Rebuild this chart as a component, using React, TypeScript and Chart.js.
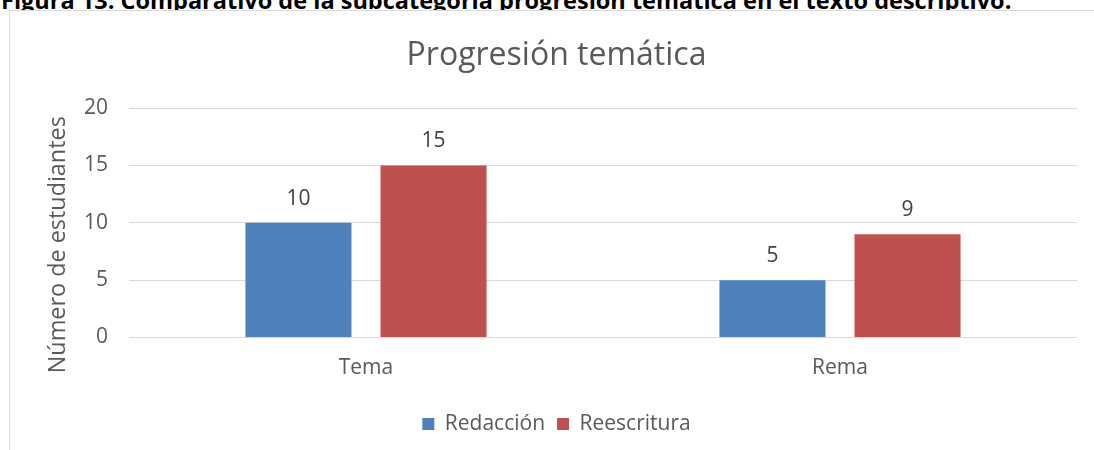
import React, { useEffect, useRef } from "react";
import { Chart, registerables } from "chart.js";

Chart.register(...registerables);

const caption =
  "Figura 13. Comparativo de la subcategoría progresión temática en el texto descriptivo.";
const chartTitle = "Progresión temática";
const yAxisTitle = "Número de estudiantes";
const categories = ["Tema", "Rema"];
const seriesNames = ["Redacción", "Reescritura"];
const redaccion = [10, 5];
const reescritura = [15, 9];
const yTicks = [0, 5, 10, 15, 20];

const FONT = "'Open Sans', sans-serif";

const valueLabels = {
  id: "valueLabels",
  afterDatasetsDraw(chart: any) {
    const ctx = chart.ctx;
    ctx.save();
    ctx.font = `21px ${FONT}`;
    ctx.fillStyle = "#404040";
    ctx.textAlign = "center";
    ctx.textBaseline = "middle";
    chart.data.datasets.forEach((ds: any, i: number) => {
      const meta = chart.getDatasetMeta(i);
      meta.data.forEach((el: any, j: number) => {
        ctx.fillText(String(ds.data[j]), el.x, el.y - 24);
      });
    });
    ctx.restore();
  },
};

const yTitlePlugin = {
  id: "yTitlePlugin",
  afterDraw(chart: any) {
    const ctx = chart.ctx;
    const area = chart.chartArea;
    ctx.save();
    ctx.translate(48.5, (area.top + area.bottom) / 2 + 22);
    ctx.rotate(-Math.PI / 2);
    ctx.font = `23.4px ${FONT}`;
    ctx.fillStyle = "#595959";
    ctx.textAlign = "center";
    ctx.textBaseline = "middle";
    ctx.fillText(yAxisTitle, 0, 0);
    ctx.restore();
  },
};

export default function App() {
  const canvasRef = useRef<HTMLCanvasElement | null>(null);
  const capRef = useRef<HTMLSpanElement | null>(null);

  useEffect(() => {
    const cap = capRef.current;
    if (cap) {
      const w = cap.offsetWidth;
      if (w > 0) {
        const size = (22 * 1011) / w;
        cap.style.fontSize = `${size}px`;
      }
    }
    const canvas = canvasRef.current;
    if (!canvas) return;
    Chart.defaults.font.family = FONT;
    const chart = new Chart(canvas, {
      type: "bar",
      data: {
        labels: categories,
        datasets: [
          {
            label: seriesNames[0],
            data: redaccion,
            backgroundColor: "#4F81BD",
            categoryPercentage: 0.57,
            barPercentage: 0.785,
          },
          {
            label: seriesNames[1],
            data: reescritura,
            backgroundColor: "#C0504D",
            categoryPercentage: 0.57,
            barPercentage: 0.785,
          },
        ],
      },
      options: {
        responsive: false,
        animation: false,
        layout: { padding: { top: 0, left: 0, right: 0, bottom: 5.5 } },
        plugins: {
          title: {
            display: true,
            text: chartTitle,
            color: "#595959",
            font: { size: 32, weight: "normal", family: FONT },
            padding: { top: 26, bottom: 32.6 },
          },
          legend: {
            position: "bottom",
            labels: {
              color: "#595959",
              boxWidth: 12,
              boxHeight: 12,
              padding: 12,
              font: { size: 21, family: FONT },
            },
          },
          tooltip: { enabled: false },
        },
        scales: {
          x: {
            grid: { display: false, drawTicks: false },
            border: { display: false },
            ticks: {
              color: "#595959",
              padding: 18.4,
              font: { size: 21, family: FONT },
            },
            afterFit: (scale: any) => {
              scale.height += 2;
            },
          },
          y: {
            min: yTicks[0],
            max: yTicks[yTicks.length - 1],
            ticks: {
              stepSize: yTicks[1] - yTicks[0],
              color: "#595959",
              padding: 21,
              font: { size: 21, family: FONT },
            },
            grid: { color: "#d9d9d9", lineWidth: 1, drawTicks: false },
            border: { display: false },
            afterFit: (scale: any) => {
              scale.width = 119;
            },
          },
          yRight: {
            position: "right",
            display: true,
            grid: { display: false, drawTicks: false },
            border: { display: false },
            ticks: { display: false },
            afterFit: (scale: any) => {
              scale.width = 26;
            },
          },
        },
      },
      plugins: [valueLabels, yTitlePlugin],
    });
    return () => chart.destroy();
  }, []);

  return (
    <div
      style={{
        position: "fixed",
        left: 0,
        top: 0,
        width: 1094,
        height: 450,
        overflow: "hidden",
        background: "#ffffff",
      }}
    >
      <div
        style={{
          position: "absolute",
          left: 1,
          top: -16.5,
          whiteSpace: "nowrap",
          fontFamily: FONT,
          fontWeight: 700,
          color: "#000000",
          lineHeight: "normal",
        }}
      >
        <span ref={capRef} style={{ fontSize: 22 }}>
          {caption}
        </span>
      </div>
      <div
        style={{
          position: "absolute",
          left: 9,
          top: 10,
          width: 1200,
          height: 500,
          border: "1px solid #d9d9d9",
          background: "#ffffff",
        }}
      >
        <canvas
          ref={canvasRef}
          width={1093}
          height={439}
          style={{ position: "absolute", left: 0, top: 0 }}
        />
      </div>
    </div>
  );
}
